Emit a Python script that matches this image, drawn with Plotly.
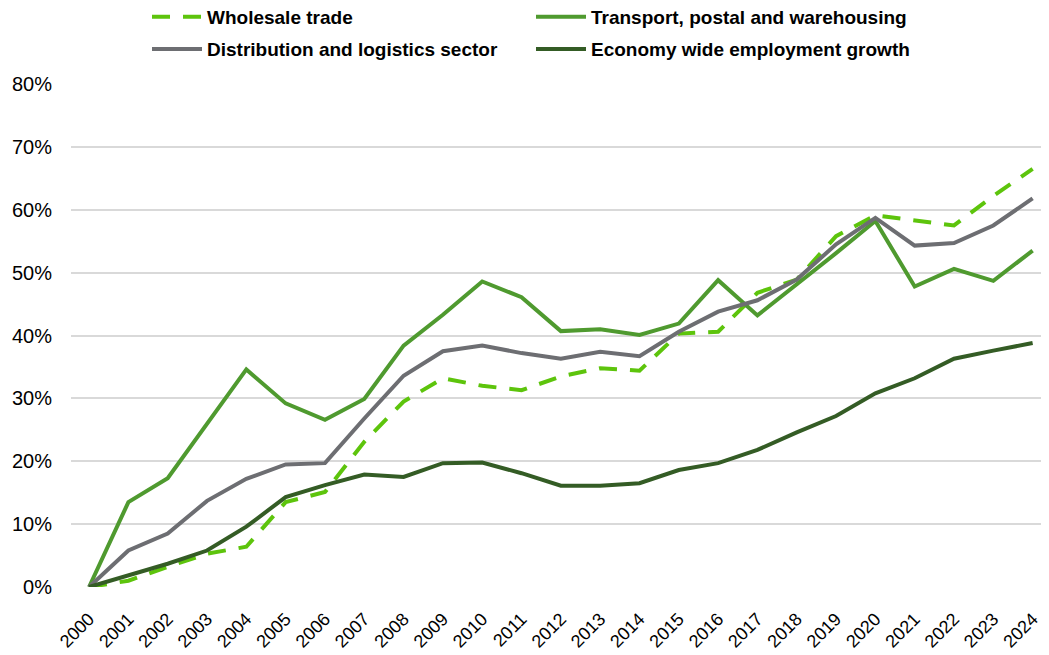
import plotly.graph_objects as go

years = [str(y) for y in range(2000, 2025)]

wholesale = [0.0, 1.0, 3.2, 5.3, 6.4, 13.5, 15.1, 23.1, 29.5, 33.2, 32.0, 31.3, 33.5, 34.8, 34.4,
             40.3, 40.6, 46.8, 48.9, 55.8, 59.1, 58.3, 57.5, 62.2, 66.5]
transport = [0.0, 13.5, 17.3, 25.9, 34.6, 29.2, 26.6, 29.9, 38.4, 43.3, 48.6, 46.1, 40.7, 41.0, 40.1,
             41.9, 48.8, 43.2, 48.1, 53.1, 58.2, 47.8, 50.6, 48.7, 53.5]
distribution = [0.0, 5.8, 8.5, 13.7, 17.2, 19.5, 19.7, 26.8, 33.6, 37.5, 38.4, 37.2, 36.3, 37.4, 36.7,
                40.6, 43.8, 45.6, 48.9, 54.5, 58.7, 54.3, 54.7, 57.5, 61.8]
economy = [0.0, 1.9, 3.7, 5.8, 9.6, 14.3, 16.2, 17.9, 17.5, 19.7, 19.8, 18.1, 16.1, 16.1, 16.5,
           18.6, 19.7, 21.8, 24.6, 27.2, 30.8, 33.2, 36.3, 37.6, 38.8]

names = ["Wholesale trade", "Transport, postal and warehousing",
         "Distribution and logistics sector", "Economy wide employment growth"]
colors = ["#5DC40C", "#4F9A2F", "#6D6E72", "#345C25"]

fig = go.Figure()
fig.add_trace(go.Scatter(x=years, y=[v / 100 for v in wholesale], mode="lines", name=names[0],
                         line=dict(color=colors[0], width=4, dash="18px,13px"), legend="legend"))
fig.add_trace(go.Scatter(x=years, y=[v / 100 for v in transport], mode="lines", name=names[1],
                         line=dict(color=colors[1], width=4), legend="legend"))
fig.add_trace(go.Scatter(x=years, y=[v / 100 for v in distribution], mode="lines", name=names[2],
                         line=dict(color=colors[2], width=4), legend="legend2"))
fig.add_trace(go.Scatter(x=years, y=[v / 100 for v in economy], mode="lines", name=names[3],
                         line=dict(color=colors[3], width=4), legend="legend2"))

leg_common = dict(orientation="h", xanchor="left", yanchor="top", entrywidth=319,
                  entrywidthmode="pixels", itemwidth=50, bgcolor="rgba(0,0,0,0)",
                  xref="container", yref="paper",
                  font=dict(family="Liberation Sans", size=19, color="#000000", weight="bold"),
                  itemclick=False, itemdoubleclick=False)

fig.update_layout(
    width=1041, height=647,
    margin=dict(l=63, r=3, t=76, b=68, autoexpand=False),
    paper_bgcolor="white", plot_bgcolor="white",
    font=dict(family="Liberation Sans", color="#000000"),
    showlegend=True,
    legend=dict(x=139 / 1041, y=1.171, **leg_common),
    legend2=dict(x=139 / 1041, y=1.107, **leg_common),
    xaxis=dict(range=[-0.46, 24.34], showgrid=False, zeroline=False, showline=False,
               tickangle=-45, tickfont=dict(size=18), ticks="", ticklabelstandoff=17,
               automargin=False),
    yaxis=dict(range=[0, 0.8], dtick=0.1, tickformat=".0%", showgrid=True,
               gridcolor="#D9D9D9", gridwidth=1.5, zeroline=False, showline=False,
               tickfont=dict(size=20), ticks="", ticklabelstandoff=18, automargin=False),
)

fig.write_html("out.html")
